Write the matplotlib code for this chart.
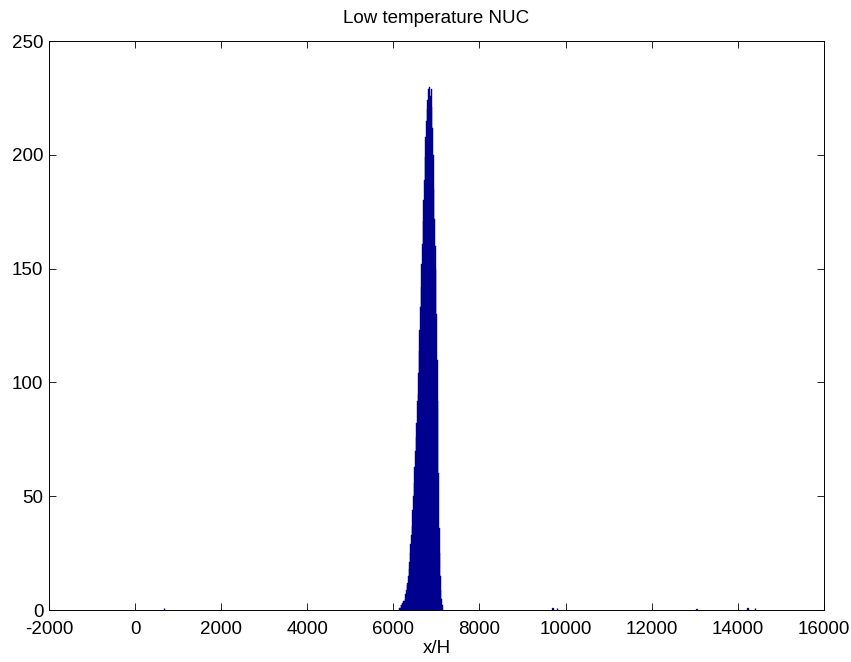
import numpy as np
import matplotlib.pyplot as plt

plt.rcParams['font.family'] = ['Liberation Sans', 'DejaVu Sans']
plt.rcParams['axes.unicode_minus'] = False

# histogram bins of the main peak (bin width 15)
bin_width = 15
peak_start = 6150
peak_counts = [1, 1, 2, 2, 3, 3, 4, 4, 5, 7, 9, 11, 12, 15, 18, 21, 25, 29, 33, 37,
               44, 50, 56, 63, 70, 76, 82, 92, 95, 104, 114, 123, 133, 142, 152, 161,
               171, 180, 189, 199, 208, 215, 220, 224, 229, 222, 230, 219, 226, 229,
               221, 212, 200, 185, 172, 160, 150, 130, 110, 92, 60, 36, 25, 15, 9, 5, 2]

# a few isolated bins far from the peak
outlier_x = [671, 9700, 9800, 13043, 14227, 14400]
outlier_counts = [1, 1, 1, 0.5, 1, 1]

peak_x = peak_start + bin_width * np.arange(len(peak_counts))
navy = '#00008f'

fig = plt.figure(figsize=(8.51, 6.62), dpi=100)
ax = fig.add_axes([0.0576, 0.0785, 0.9104, 0.8595])

ax.bar(peak_x, peak_counts, width=bin_width, color=navy, edgecolor=navy, linewidth=0.3)
ax.bar(outlier_x, outlier_counts, width=bin_width, color=navy, edgecolor=navy, linewidth=1.0)

ax.set_xlim(-2000, 16000)
ax.set_ylim(0, 250)
ax.set_xticks(np.arange(-2000, 16001, 2000))
ax.set_yticks(np.arange(0, 251, 50))
ax.tick_params(direction='in', top=True, right=True, labelsize=13.5, length=5, width=0.6)
ax.tick_params(axis='x', pad=8)
ax.tick_params(axis='y', pad=4)
for s in ax.spines.values():
    s.set_linewidth(0.7)

ax.set_title('Low temperature NUC', fontsize=13.5, pad=13)
ax.set_xlabel('x/H', fontsize=13.5, labelpad=1)

fig.savefig('out.png', dpi=100)
